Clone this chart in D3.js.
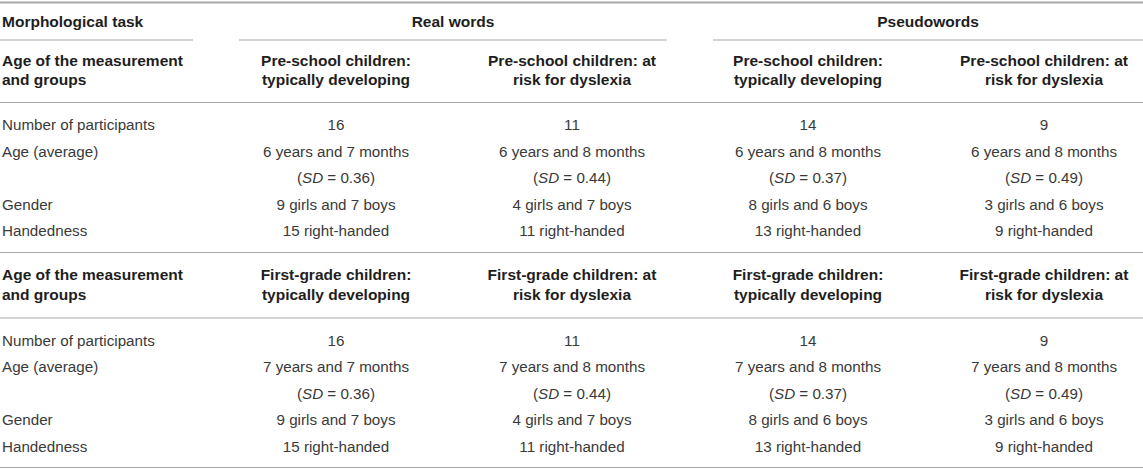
<!DOCTYPE html>
<html>
<head>
<meta charset="utf-8">
<script src="https://cdn.jsdelivr.net/npm/d3@7"></script>
<style>
  html, body { margin: 0; padding: 0; background: #fff; }
  svg { display: block; font-family: "Liberation Sans", Arial, Helvetica, sans-serif; }
</style>
</head>
<body>
<div id="table"></div>
<script>
// column groups and headers
const taskGroups = ["Real words", "Pseudowords"];
const groupHeads1 = [["Pre-school children:", "typically developing"], ["Pre-school children: at", "risk for dyslexia"],
                     ["Pre-school children:", "typically developing"], ["Pre-school children: at", "risk for dyslexia"]];
const groupHeads2 = [["First-grade children:", "typically developing"], ["First-grade children: at", "risk for dyslexia"],
                     ["First-grade children:", "typically developing"], ["First-grade children: at", "risk for dyslexia"]];
const rowLabels = ["Number of participants", "Age (average)", "", "Gender", "Handedness"];

// values per column (real TD, real risk, pseudo TD, pseudo risk)
const participants = [16, 11, 14, 9];
const ageYears1 = [6, 6, 6, 6];
const ageYears2 = [7, 7, 7, 7];
const ageMonths = [7, 8, 8, 8];
const ageSD = [0.36, 0.44, 0.37, 0.49];
const girls = [9, 4, 8, 3];
const boys = [7, 7, 6, 6];
const rightHanded = [15, 11, 13, 9];

const W = 1143, H = 470;
const svg = d3.select("#table").append("svg")
    .attr("width", W)
    .attr("height", H);

// column centres
const x = d3.scaleLinear().domain([0, 3]).range([336, 1044]);
// body rows inside a block
const rowY = d3.scaleLinear().domain([0, 4]).range([0, 106]);

const lineColor = "#a8a8a8";
const headColor = "#1e1e1e";
const bodyColor = "#3a3a3a";
const bodySize = 15.2;
const headSize = 15.5;

function hline(x1, x2, y, w) {
    svg.append("line")
        .attr("x1", x1).attr("x2", x2)
        .attr("y1", y).attr("y2", y)
        .attr("stroke", lineColor)
        .attr("stroke-width", w || 1.2);
}

// top rule
hline(0, W, 2.5, 2);

// first header row
svg.append("text")
    .attr("x", 2).attr("y", 27)
    .attr("font-size", headSize).attr("font-weight", "bold").attr("fill", headColor)
    .text("Morphological task");

svg.selectAll("text.task")
    .data(taskGroups)
    .join("text")
    .attr("class", "task")
    .attr("x", (d, i) => i === 0 ? (x(0) + x(1)) / 2 - 1 : (x(2) - 95 + W) / 2)
    .attr("y", 27)
    .attr("text-anchor", "middle")
    .attr("font-size", headSize).attr("font-weight", "bold").attr("fill", headColor)
    .text(d => d);

// partial rules under the spanning headers
hline(0, 193, 40);
hline(x(0) - 97, x(1) + 95, 40);
hline(x(2) - 95, W, 40);

function block(top, lineBelow, heads, years, bodyTop) {
    // group header
    const hd = svg.append("g").attr("transform", `translate(0,${top})`);
    hd.append("text")
        .attr("font-size", headSize).attr("font-weight", "bold").attr("fill", headColor)
        .selectAll("tspan")
        .data(["Age of the measurement", "and groups"])
        .join("tspan")
        .attr("x", 2)
        .attr("y", (d, i) => i * 19.5)
        .text(d => d);

    hd.selectAll("text.grp")
        .data(heads)
        .join("text")
        .attr("class", "grp")
        .attr("font-size", headSize).attr("font-weight", "bold").attr("fill", headColor)
        .attr("text-anchor", "middle")
        .selectAll("tspan")
        .data((d, i) => d.map(t => ({t, i})))
        .join("tspan")
        .attr("x", d => x(d.i))
        .attr("y", (d, j) => j * 19.5)
        .text(d => d.t);

    hline(0, W, lineBelow);

    // body
    const bd = svg.append("g").attr("transform", `translate(0,${bodyTop})`);
    bd.selectAll("text.lab")
        .data(rowLabels)
        .join("text")
        .attr("class", "lab")
        .attr("x", 2)
        .attr("y", (d, i) => rowY(i))
        .attr("font-size", bodySize).attr("fill", bodyColor)
        .text(d => d);

    const cols = d3.range(4);
    cols.forEach(c => {
        const cells = [
            String(participants[c]),
            `${years[c]} years and ${ageMonths[c]} months`,
            null,
            `${girls[c]} girls and ${boys[c]} boys`,
            `${rightHanded[c]} right-handed`
        ];
        bd.selectAll(`text.c${c}`)
            .data(cells.map((t, r) => ({t, r})).filter(d => d.t !== null))
            .join("text")
            .attr("class", `c${c}`)
            .attr("x", x(c))
            .attr("y", d => rowY(d.r))
            .attr("text-anchor", "middle")
            .attr("font-size", bodySize).attr("fill", bodyColor)
            .text(d => d.t);

        // SD line with italic SD
        const sd = bd.append("text")
            .attr("x", x(c))
            .attr("y", rowY(2))
            .attr("text-anchor", "middle")
            .attr("font-size", bodySize).attr("fill", bodyColor);
        sd.append("tspan").text("(");
        sd.append("tspan").attr("font-style", "italic").text("SD");
        sd.append("tspan").text(" = " + ageSD[c].toFixed(2) + ")");
    });
}

block(65.5, 102.5, groupHeads1, ageYears1, 130);
hline(0, W, 252.5);
block(280, 318, groupHeads2, ageYears2, 345.5);
hline(0, W, 467.5);
</script>
</body>
</html>
